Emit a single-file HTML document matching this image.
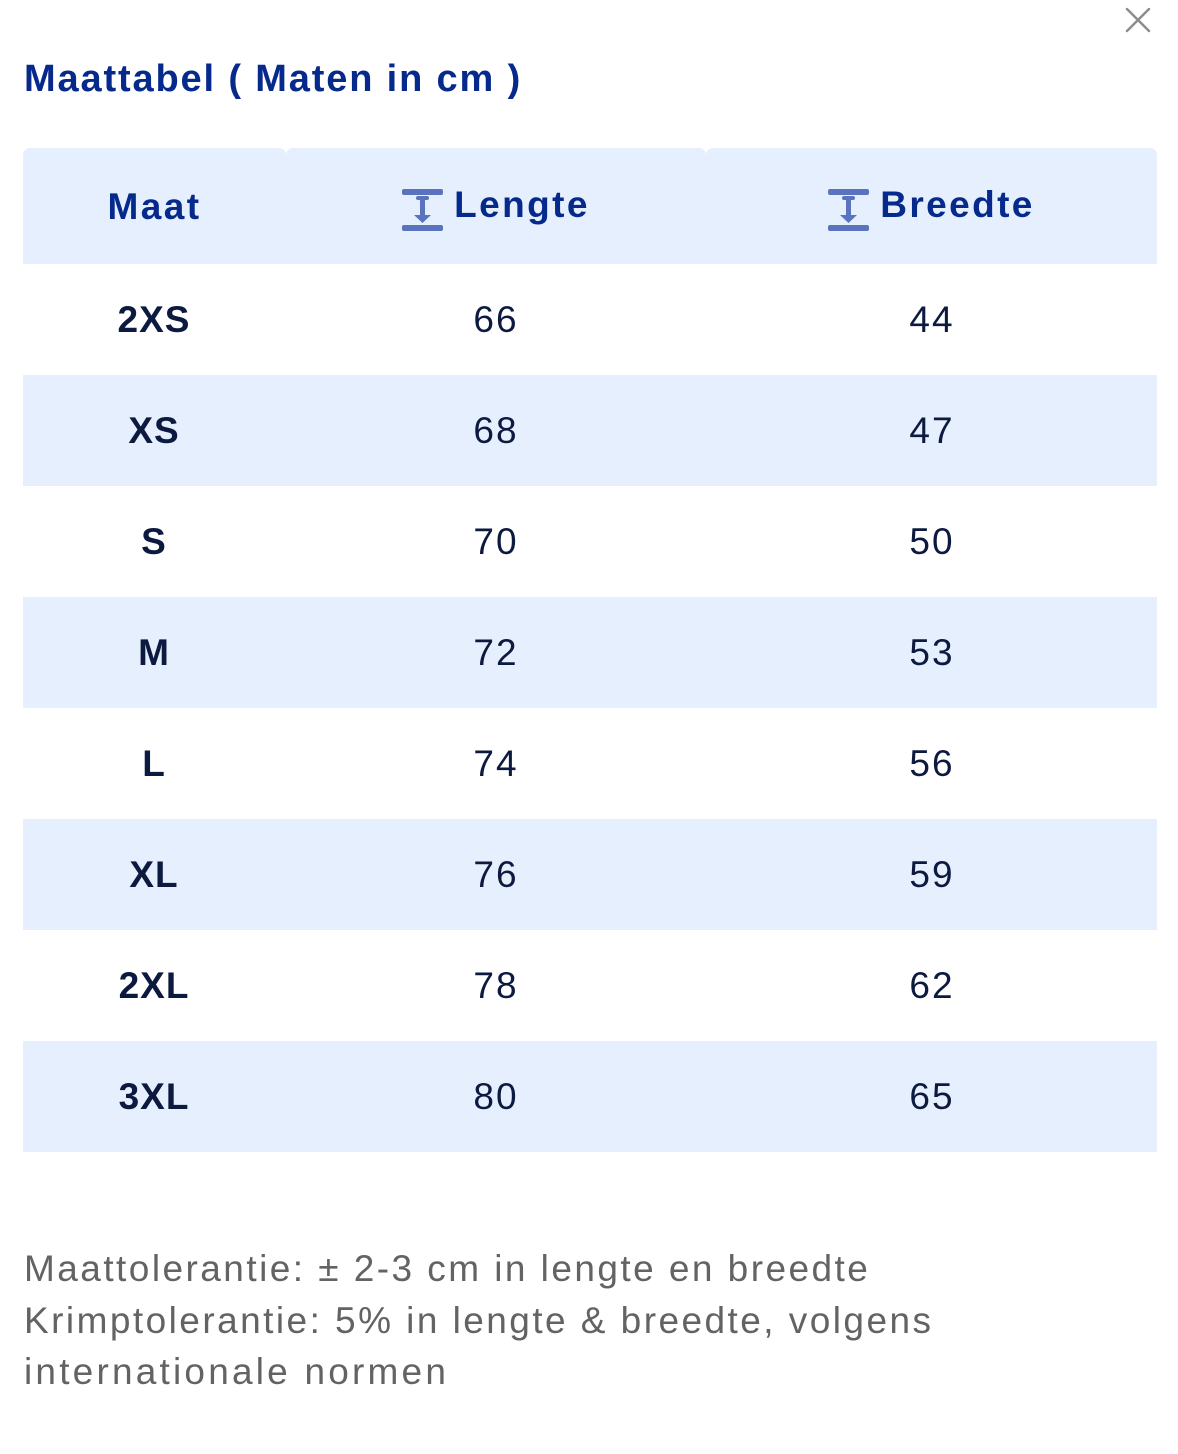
<!DOCTYPE html>
<html>
<head>
<meta charset="utf-8">
<style>
html,body{margin:0;padding:0;background:#fff;}
body{width:1178px;height:1454px;position:relative;overflow:hidden;font-family:"Liberation Sans",Arial,sans-serif;}
.title{position:absolute;left:24px;top:60px;font-size:38px;line-height:38px;font-weight:700;color:#06298c;letter-spacing:1.85px;white-space:nowrap;}
.close{position:absolute;left:1124px;top:6px;width:28px;height:28px;}
.hdr{position:absolute;top:148px;height:116px;background:#e6effd;border-radius:7px 7px 0 0;display:flex;align-items:center;justify-content:center;}
.hdr span{font-size:37px;font-weight:700;color:#06298c;letter-spacing:2.4px;line-height:37px;white-space:nowrap;}
.hdr svg{margin-right:11px;position:relative;top:4px;}
.row{position:absolute;left:23px;width:1134px;height:111px;}
.row.b{background:#e6effd;}
.cell{position:absolute;top:0;height:111px;display:flex;align-items:center;justify-content:center;font-size:37px;color:#0d1a40;line-height:37px;white-space:nowrap;}
.c1{left:0;width:262px;font-weight:700;letter-spacing:1px;}
.c2{left:263px;width:420px;letter-spacing:2px;}
.c3{left:684px;width:450px;letter-spacing:2px;}
.foot{position:absolute;left:24px;top:1243px;font-size:37px;line-height:51.5px;color:#636363;letter-spacing:2.45px;white-space:nowrap;}
</style>
</head>
<body>
<div class="title">Maattabel ( Maten in cm )</div>
<svg class="close" viewBox="0 0 28 28"><path d="M3 3 L25 25 M25 3 L3 25" stroke="#8c8c8c" stroke-width="2.4" stroke-linecap="round" fill="none"/></svg>

<div class="hdr" style="left:23px;width:263px;"><span>Maat</span></div>
<div class="hdr" style="left:286px;width:420px;">
<svg width="41" height="43" viewBox="0 0 41 43"><g fill="#5a73bf"><rect x="0" y="0" width="41" height="6" rx="2"/><rect x="0" y="36" width="41" height="6" rx="2"/><rect x="14" y="7" width="13" height="4" rx="2"/><rect x="18" y="9" width="5" height="20"/><path d="M12 26 L29 26 L20.5 34 Z"/></g></svg>
<span style="position:relative;top:-2px;">Lengte</span></div>
<div class="hdr" style="left:706px;width:451px;">
<svg width="41" height="43" viewBox="0 0 41 43"><g fill="#5a73bf"><rect x="0" y="0" width="41" height="6" rx="2"/><rect x="0" y="36" width="41" height="6" rx="2"/><rect x="14" y="7" width="13" height="4" rx="2"/><rect x="18" y="9" width="5" height="20"/><path d="M12 26 L29 26 L20.5 34 Z"/></g></svg>
<span style="position:relative;top:-2px;">Breedte</span></div>

<div class="row" style="top:264px;"><div class="cell c1">2XS</div><div class="cell c2">66</div><div class="cell c3">44</div></div>
<div class="row b" style="top:375px;"><div class="cell c1">XS</div><div class="cell c2">68</div><div class="cell c3">47</div></div>
<div class="row" style="top:486px;"><div class="cell c1">S</div><div class="cell c2">70</div><div class="cell c3">50</div></div>
<div class="row b" style="top:597px;"><div class="cell c1">M</div><div class="cell c2">72</div><div class="cell c3">53</div></div>
<div class="row" style="top:708px;"><div class="cell c1">L</div><div class="cell c2">74</div><div class="cell c3">56</div></div>
<div class="row b" style="top:819px;"><div class="cell c1">XL</div><div class="cell c2">76</div><div class="cell c3">59</div></div>
<div class="row" style="top:930px;"><div class="cell c1">2XL</div><div class="cell c2">78</div><div class="cell c3">62</div></div>
<div class="row b" style="top:1041px;"><div class="cell c1">3XL</div><div class="cell c2">80</div><div class="cell c3">65</div></div>

<div class="foot">Maattolerantie: ± 2-3 cm in lengte en breedte<br>Krimptolerantie: 5% in lengte &amp; breedte, volgens<br><span style="letter-spacing:3.2px;">internationale normen</span></div>
</body>
</html>
